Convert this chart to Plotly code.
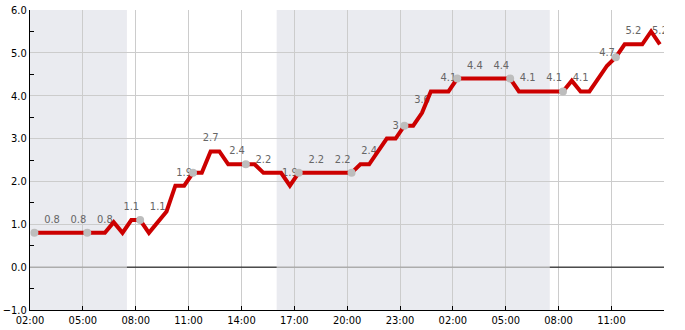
import pandas as pd
import plotly.graph_objects as go

# ---- data -------------------------------------------------------------
line_start = "2024-01-01 02:15"
line_values = [
    0.8, 0.8, 0.8, 0.8, 0.8, 0.8, 0.8, 0.8, 0.8, 1.05, 0.8, 1.1,   # 02:15 - 07:45
    1.1, 0.8, 1.05, 1.3, 1.9, 1.9, 2.2, 2.2, 2.7, 2.7, 2.4, 2.4,   # 08:15 - 13:45
    2.4, 2.4, 2.2, 2.2, 2.2, 1.9, 2.2, 2.2, 2.2, 2.2, 2.2, 2.2,    # 14:15 - 19:45
    2.2, 2.4, 2.4, 2.7, 3.0, 3.0, 3.3, 3.3, 3.6, 4.1, 4.1, 4.1,    # 20:15 - 01:45
    4.4, 4.4, 4.4, 4.4, 4.4, 4.4, 4.4, 4.1, 4.1, 4.1, 4.1, 4.1,    # 02:15 - 07:45
    4.1, 4.35, 4.1, 4.1, 4.4, 4.7, 4.9, 5.2, 5.2, 5.2, 5.5, 5.2,   # 08:15 - 13:45
]
line_times = pd.date_range(line_start, periods=len(line_values), freq="30min")

label_start = "2024-01-01 03:15"
label_values = [0.8, 0.8, 0.8, 1.1, 1.1, 1.9, 2.7, 2.4, 2.2, 1.9, 2.2, 2.2,
                2.4, 3, 3.6, 4.1, 4.4, 4.4, 4.1, 4.1, 4.1, 4.7, 5.2, 5.2]
label_times = pd.date_range(label_start, periods=len(label_values), freq="90min")
label_text = [f"{v:g}" for v in label_values]

marker_step = 6  # a grey marker every 3 hours
marker_times = line_times[::marker_step]
marker_values = line_values[::marker_step]

night_starts = ["2024-01-01 02:00", "2024-01-01 16:00"]
night_ends = ["2024-01-01 07:30", "2024-01-02 07:30"]
day_starts = ["2024-01-01 07:30", "2024-01-02 07:30"]
day_ends = ["2024-01-01 16:00", "2024-01-02 13:59"]

x_range = ["2024-01-01 02:00", "2024-01-02 13:59"]
y_range = [-1, 6]

# ---- styles -----------------------------------------------------------
FONT = "DejaVu Sans Condensed, DejaVu Sans"
RED = "#cc0000"
GRID = "#cccccc"
SHADE = "#eaebf0"

fig = go.Figure()

fig.add_trace(go.Scatter(
    x=label_times, y=label_values, text=label_text,
    mode="markers+text", textposition="top center",
    marker=dict(size=10, opacity=0),
    textfont=dict(family=FONT, size=11, color="#666666"),
    hoverinfo="skip", showlegend=False,
))

fig.add_trace(go.Scatter(
    x=line_times, y=line_values, mode="lines",
    line=dict(color=RED, width=4),
    showlegend=False,
))

fig.add_trace(go.Scatter(
    x=marker_times, y=marker_values, mode="markers",
    marker=dict(color="#bdbdbd", size=8),
    showlegend=False,
))

shapes = []
for s, e in zip(night_starts, night_ends):
    shapes.append(dict(type="rect", xref="x", yref="y", x0=s, x1=e,
                       y0=y_range[0], y1=y_range[1], fillcolor=SHADE,
                       line=dict(width=0), layer="below"))
    shapes.append(dict(type="line", xref="x", yref="y", x0=s, x1=e,
                       y0=0, y1=0, line=dict(color="#9a9a9a", width=1),
                       layer="between"))
for s, e in zip(day_starts, day_ends):
    shapes.append(dict(type="line", xref="x", yref="y", x0=s, x1=e,
                       y0=0, y1=0, line=dict(color="black", width=1),
                       layer="between"))

fig.update_layout(
    width=685, height=330,
    margin=dict(l=30, r=21, t=10, b=20),
    paper_bgcolor="white", plot_bgcolor="white",
    font=dict(family=FONT, size=11, color="black"),
    shapes=shapes,
    showlegend=False,
)

fig.update_xaxes(
    range=x_range, type="date", automargin=False,
    tick0="2024-01-01 02:00", dtick=3 * 3600 * 1000, tickformat="%H:%M",
    showgrid=True, gridcolor=GRID, gridwidth=1,
    showline=True, linecolor="black", linewidth=1,
    ticks="inside", ticklen=4, tickcolor="black",
    zeroline=False,
)

fig.update_yaxes(
    range=y_range, dtick=1, tickformat=".1f", automargin=False,
    showgrid=True, gridcolor=GRID, gridwidth=1,
    showline=True, linecolor="black", linewidth=1,
    ticks="", zeroline=False,
    minor=dict(tick0=0.5, dtick=1, ticks="inside", ticklen=4,
               tickcolor="black", showgrid=False),
)

fig.write_html("out.html")
